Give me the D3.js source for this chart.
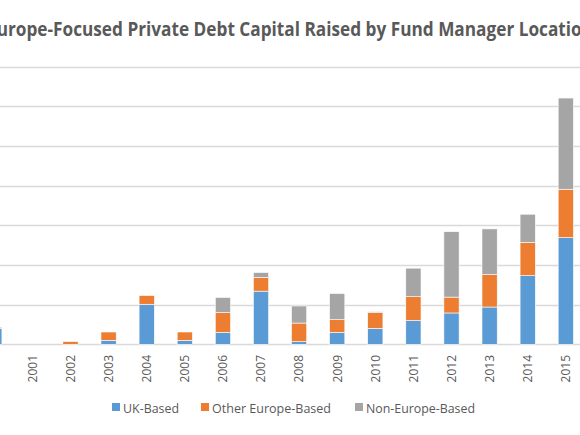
<!DOCTYPE html>
<html>
<head>
<meta charset="utf-8">
<script src="https://cdn.jsdelivr.net/npm/d3@7"></script>
<style>
  html, body { margin: 0; padding: 0; background: #fff; overflow: hidden; }
  svg { display: block; }
</style>
</head>
<body>
<script>
const years = ["2000","2001","2002","2003","2004","2005","2006","2007","2008","2009","2010","2011","2012","2013","2014","2015"];
const ukBased =       [2.0, 0, 0,    0.5, 5.05, 0.5, 1.5, 6.7, 0.33, 1.5, 2.0, 3.0, 3.95, 4.7, 8.65, 13.45];
const otherEurope =   [0.15, 0, 0.35, 1.05, 1.1, 1.05, 2.5, 1.75, 2.35, 1.6, 2.0, 3.0, 2.0, 4.1, 4.2, 6.1];
const nonEurope =     [0, 0, 0.05, 0, 0, 0, 1.9, 0.6, 2.15, 3.3, 0.1, 3.6, 8.25, 5.75, 3.55, 11.5];
const seriesNames = ["UK-Based", "Other Europe-Based", "Non-Europe-Based"];
const colors = ["#5B9BD5", "#ED7D31", "#A5A5A5"];
const yTicks = [0, 5, 10, 15, 20, 25, 30, 35];
const title = "Europe-Focused Private Debt Capital Raised by Fund Manager Location";

const W = 580, H = 435;
const svg = d3.select("body").append("svg").attr("width", W).attr("height", H);

const rows = years.map((y, i) => ({ year: y, "UK-Based": ukBased[i], "Other Europe-Based": otherEurope[i], "Non-Europe-Based": nonEurope[i] }));
const stacked = d3.stack().keys(seriesNames)(rows);

const x = d3.scaleBand().domain(years).range([-24.75, 584.85]).paddingInner(0.6).paddingOuter(0.3);
const y = d3.scaleLinear().domain([0, 35]).range([344.3, 66.7]);

// title
svg.append("text")
  .attr("x", 290).attr("y", 35.7)
  .attr("text-anchor", "middle")
  .attr("font-family", "'Open Sans', sans-serif")
  .attr("font-weight", "bold")
  .attr("font-size", 19.5)
  .attr("fill", "#595959")
  .attr("textLength", 606)
  .attr("lengthAdjust", "spacingAndGlyphs")
  .text(title);

// gridlines
svg.append("g").selectAll("line").data(yTicks).join("line")
  .attr("x1", x.range()[0]).attr("x2", x.range()[1])
  .attr("y1", d => Math.round(y(d)) + 0.5).attr("y2", d => Math.round(y(d)) + 0.5)
  .attr("stroke", "#D9D9D9").attr("stroke-width", 1.3);

// bars
svg.append("g").selectAll("g").data(stacked).join("g")
  .attr("fill", (d, i) => colors[i])
  .selectAll("rect").data(d => d.filter(s => s[1] - s[0] > 0)).join("rect")
  .attr("x", d => x(d.data.year))
  .attr("width", x.bandwidth())
  .attr("y", d => y(d[1]))
  .attr("height", d => y(d[0]) - y(d[1]))
  .attr("stroke", "#fff").attr("stroke-width", 0.6);

// x labels
svg.append("g").selectAll("text").data(years).join("text")
  .attr("transform", d => `translate(${x(d) + x.bandwidth() / 2},355) rotate(-90)`)
  .attr("text-anchor", "end")
  .attr("dy", "0.36em")
  .attr("font-family", "'Open Sans', sans-serif")
  .attr("font-size", 12)
  .attr("fill", "#595959")
  .text(d => d);

// legend
const legendX = [112, 201, 355];
const legendW = [56, 119, 109];
const lg = svg.append("g").selectAll("g").data(seriesNames).join("g")
  .attr("transform", (d, i) => `translate(${legendX[i]},0)`);
lg.append("rect").attr("x", 0).attr("y", 403).attr("width", 8).attr("height", 8)
  .attr("fill", (d, i) => colors[i]);
lg.append("text").attr("x", 11).attr("y", 413)
  .attr("font-family", "'Open Sans', sans-serif")
  .attr("font-size", 12.5)
  .attr("fill", "#595959")
  .attr("textLength", (d, i) => legendW[i])
  .attr("lengthAdjust", "spacingAndGlyphs")
  .text(d => d);
</script>
</body>
</html>
